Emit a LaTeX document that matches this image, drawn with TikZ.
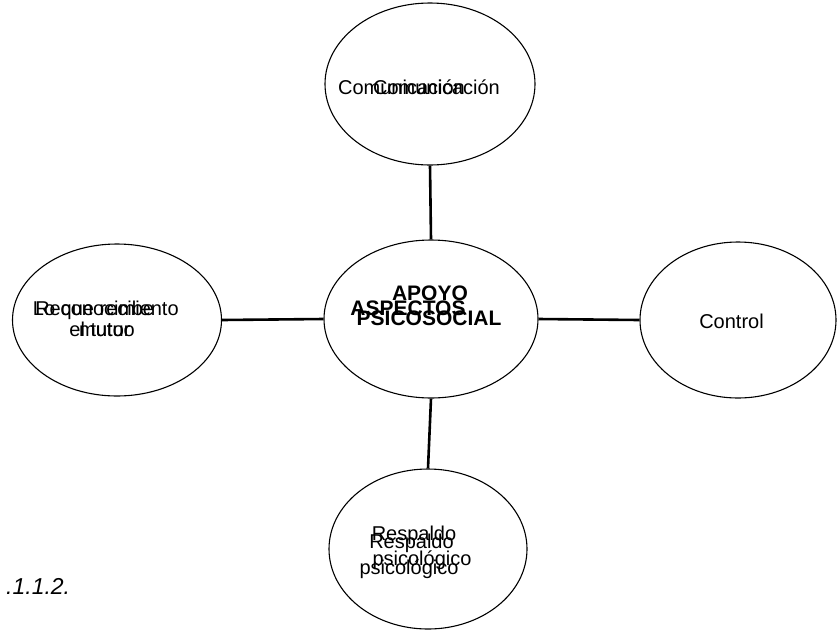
\documentclass[tikz,border=0pt]{standalone}
\usepackage{fontspec}
\setmainfont{Liberation Sans}
\usetikzlibrary{shapes.geometric}
\begin{document}
\begin{tikzpicture}[x=1pt,y=1pt,
  bubble/.style={ellipse, draw=black, line width=1.1pt, inner sep=0pt},
  link/.style={line width=2.6pt, line cap=butt},
  txt/.style={inner sep=0pt, anchor=base, font=\fontsize{20}{23}\selectfont},
  btxt/.style={inner sep=0pt, anchor=base, font=\fontsize{21}{24}\selectfont\bfseries},
  figcap/.style={inner sep=0pt, anchor=base west, font=\fontsize{23}{26}\selectfont\itshape}]
\useasboundingbox (0,0) rectangle (838,-630);

% ellipses
\node[bubble, minimum width=210pt, minimum height=162pt] (top)    at (430,-84)  {};
\node[bubble, minimum width=214pt, minimum height=158pt] (centre) at (431,-319) {};
\node[bubble, minimum width=209pt, minimum height=152pt] (left)   at (117,-320) {};
\node[bubble, minimum width=196pt, minimum height=156pt] (right)  at (738,-320) {};
\node[bubble, minimum width=198pt, minimum height=160pt] (bottom) at (428,-549) {};

% spokes
\draw[link] (top.south) -- (centre.north);
\draw[link] (centre.west) -- (left.east);
\draw[link] (centre.east) -- (right.west);
\draw[link] (centre.south) -- (bottom.north);

% labels
\node[txt] (comA) at (401.5,-94) {Comunicación};
\node[txt] (comB) at (436.5,-94) {Comunicación};

\node[btxt] (apoyo)  at (430,-300) {APOYO};
\node[btxt] (aspect) at (408,-315) {ASPECTOS};
\node[btxt] (psico)  at (429,-325) {PSICOSOCIAL};

\node[txt] (recA) at (107,-315.5) {Reconocimiento};
\node[txt] (recB) at (93.5,-315.5) {Lo que recibe};
\node[txt] (mutA) at (107,-336) {mutuo};
\node[txt] (mutB) at (100,-336) {el tutor};

\node[txt] (ctrl) at (731.5,-328) {Control};

\node[txt] (resA) at (414,-540) {Respaldo};
\node[txt] (resB) at (411.5,-548) {Respaldo};
\node[txt] (psiA) at (422,-565) {psicológico};
\node[txt] (psiB) at (409,-574) {psicológico};

\node[figcap] (fig) at (6,-594) {.1.1.2.};
\end{tikzpicture}
\end{document}
